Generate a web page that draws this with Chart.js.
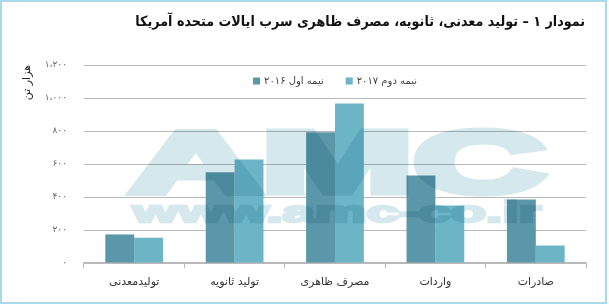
<!DOCTYPE html>
<html><head><meta charset="utf-8">
<script src="https://cdn.jsdelivr.net/npm/chart.js@4"></script>
<style>html,body{margin:0;padding:0;background:#fff}</style>
</head><body>
<canvas id="c" width="609" height="306"></canvas>
<script>
const titleText = 'نمودار ۱ – تولید معدنی، ثانویه، مصرف ظاهری سرب ایالات متحده آمریکا';
const categories = ['تولیدمعدنی', 'تولید ثانویه', 'مصرف ظاهری', 'واردات', 'صادرات'];
const seriesNames = ['نیمه اول ۲۰۱۶', 'نیمه دوم ۲۰۱۷'];
const firstHalf2016 = [173, 550, 793, 530, 385];
const secondHalf2017 = [153, 627, 967, 348, 106];
const yTickValues = [0, 200, 400, 600, 800, 1000, 1200];
const yTickLabels = ['۰', '۲۰۰', '۴۰۰', '۶۰۰', '۸۰۰', '۱،۰۰۰', '۱،۲۰۰'];
const yAxisTitle = 'هزار تن';
const watermarkBig = 'AMC';
const watermarkSmall = 'www.amc-co.ir';

const FA = '"DejaVu Sans", sans-serif';

const watermarkPlugin = {
  id: 'watermark',
  afterDatasetsDraw(chart) {
    const ctx = chart.ctx;
    const off = document.createElement('canvas');
    off.width = chart.width; off.height = chart.height;
    const o = off.getContext('2d');
    const col = 'rgb(213,232,238)';
    o.fillStyle = col; o.strokeStyle = col;
    o.lineJoin = 'miter'; o.miterLimit = 2;
    o.textBaseline = 'alphabetic'; o.textAlign = 'left';
    o.font = 'bold 88px "Liberation Sans", Arial, sans-serif';
    let w = o.measureText(watermarkBig).width;
    o.save();
    o.translate(130, 192);
    o.scale(415 / w, 1);
    o.lineWidth = 7;
    o.fillText(watermarkBig, 0, 0);
    o.strokeText(watermarkBig, 0, 0);
    o.restore();
    o.font = 'bold 30px "Liberation Sans", Arial, sans-serif';
    w = o.measureText(watermarkSmall).width;
    o.save();
    o.translate(133, 222);
    o.scale(408 / w, 1);
    o.lineWidth = 2.5;
    o.fillText(watermarkSmall, 0, 0);
    o.strokeText(watermarkSmall, 0, 0);
    o.restore();
    ctx.save();
    ctx.globalCompositeOperation = 'multiply';
    ctx.drawImage(off, 0, 0);
    ctx.restore();
  }
};

const decorPlugin = {
  id: 'decor',
  afterDraw(chart) {
    const ctx = chart.ctx;
    const area = chart.chartArea;
    ctx.save();
    // title
    ctx.font = 'bold 14px "DejaVu Sans Condensed", "DejaVu Sans", sans-serif';
    const tw = ctx.measureText(titleText).width;
    const size = 14 * 450 / tw;
    ctx.font = 'bold ' + size.toFixed(2) + 'px "DejaVu Sans Condensed", "DejaVu Sans", sans-serif';
    ctx.fillStyle = '#111';
    ctx.textAlign = 'right';
    ctx.textBaseline = 'middle';
    ctx.fillText(titleText, 585, 22);
    // legend
    ctx.font = '10px ' + FA;
    ctx.textAlign = 'left';
    const box = 7, gap = 4, between = 22;
    const items = chart.data.datasets.map(d => ({
      label: d.label, color: d.backgroundColor, w: ctx.measureText(d.label).width
    }));
    const total = items.reduce((s, it) => s + box + gap + it.w, 0) + between * (items.length - 1);
    let x = (area.left + area.right) / 2 - total / 2;
    const yc = 81;
    items.forEach(it => {
      ctx.fillStyle = it.color;
      ctx.fillRect(x, yc - 3.5, box, box);
      ctx.fillStyle = '#404040';
      ctx.fillText(it.label, x + box + gap, yc);
      x += box + gap + it.w + between;
    });
    // outer frame
    ctx.strokeStyle = '#a8dbe8';
    ctx.lineWidth = 2;
    ctx.strokeRect(1, 1, 605, 302);
    ctx.restore();
  }
};

new Chart(document.getElementById('c'), {
  type: 'bar',
  data: {
    labels: categories,
    datasets: [
      { label: seriesNames[0], data: firstHalf2016, backgroundColor: '#5a97a8', borderWidth: 0,
        categoryPercentage: 0.575, barPercentage: 1 },
      { label: seriesNames[1], data: secondHalf2017, backgroundColor: '#6bb5c7', borderWidth: 0,
        categoryPercentage: 0.575, barPercentage: 1 }
    ]
  },
  options: {
    responsive: false,
    devicePixelRatio: 1,
    animation: false,
    layout: { padding: { left: 0, right: 23, top: 65, bottom: 0 } },
    plugins: {
      legend: { display: false },
      tooltip: { enabled: false },
      title: { display: false }
    },
    scales: {
      x: {
        grid: { display: true, drawOnChartArea: false, drawTicks: true, tickLength: 5, color: '#b8b8b8', offset: true },
        border: { display: true, color: '#b8b8b8', width: 1.5 },
        ticks: { color: '#333', font: { family: FA, size: 11 }, padding: 8, maxRotation: 0 },
        afterFit: s => { s.height = 43; }
      },
      y: {
        min: 0, max: 1200,
        afterBuildTicks: s => { s.ticks = yTickValues.map(v => ({ value: v })); },
        ticks: {
          color: '#666', font: { family: FA, size: 9 }, padding: 17,
          callback: (v) => yTickLabels[yTickValues.indexOf(v)]
        },
        grid: { color: '#bababa', drawTicks: false, lineWidth: 1 },
        border: { display: false },
        title: { display: true, text: yAxisTitle, align: 'end', color: '#222',
          font: { family: FA, size: 11 }, padding: { top: 21, bottom: 0 } },
        afterFit: s => { s.width = 84; }
      }
    }
  },
  plugins: [watermarkPlugin, decorPlugin]
});
</script>
</body></html>
